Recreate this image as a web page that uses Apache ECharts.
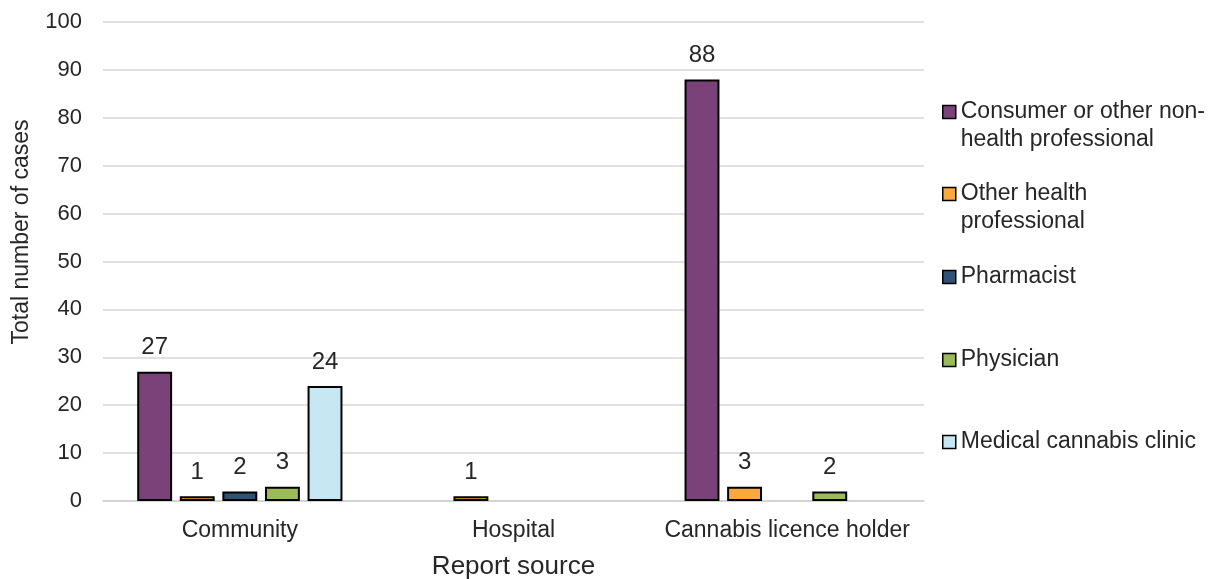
<!DOCTYPE html>
<html lang="en" style="height: 100%">
<head>
  <meta charset="utf-8">
</head>
<body style="height: 100%; margin: 0; background: #fff">
  <div id="container" style="width: 1217px; height: 579px"></div>
  <script src="https://cdn.jsdelivr.net/npm/echarts@6/dist/echarts.min.js"></script>
  <script type="text/javascript">
    var categories = ['Community', 'Hospital', 'Cannabis licence holder'];
    var seriesNames = [
      'Consumer or other non-health professional',
      'Other health professional',
      'Pharmacist',
      'Physician',
      'Medical cannabis clinic'
    ];
    // null = no report (Excel showed nothing)
    var consumer = [27, null, 88];
    var otherHealth = [1, 1, 3];
    var pharmacist = [2, null, null];
    var physician = [3, null, 2];
    var clinic = [24, null, null];
    var yTicks = [0, 10, 20, 30, 40, 50, 60, 70, 80, 90, 100];

    var colors = ['#7b4179', '#fba93d', '#2f5275', '#9bbb59', '#c6e7f1'];
    var values = [consumer, otherHealth, pharmacist, physician, clinic];
    var font = "'Liberation Sans', Arial, sans-serif";
    var textColor = '#262626';

    var dom = document.getElementById('container');
    var myChart = echarts.init(dom, null, { renderer: 'canvas' });

    // legend entries placed one by one (Excel spaces them unevenly)
    // a leading blank line keeps the icon level with the first text line
    var legendCenters = [112, 194, 277, 360, 442];
    var legendLabels = [
      '\nConsumer or other non-\nhealth professional',
      '\nOther health\nprofessional',
      'Pharmacist',
      'Physician',
      'Medical cannabis clinic'
    ];
    var legends = seriesNames.map(function (name, i) {
      var twoLines = legendLabels[i].indexOf('\n') >= 0;
      return {
        data: [name],
        orient: 'vertical',
        left: 942,
        padding: 0,
        top: twoLines ? legendCenters[i] - 42 : legendCenters[i] - 14,
        itemWidth: 13,
        itemHeight: 13,
        icon: 'rect',
        selectedMode: false,
        itemStyle: { borderColor: '#000', borderWidth: 1.5 },
        formatter: function () { return legendLabels[i]; },
        textStyle: {
          fontFamily: font,
          fontSize: 23,
          lineHeight: 28,
          color: textColor
        }
      };
    });

    var option = {
      animation: false,
      color: colors,
      textStyle: { fontFamily: font },
      grid: { left: 103, right: 293, top: 22, bottom: 78, outerBoundsMode: 'none' },
      legend: legends,
      xAxis: {
        type: 'category',
        data: categories,
        name: 'Report source',
        nameLocation: 'middle',
        nameGap: 53,
        nameTextStyle: { fontSize: 26, color: textColor, fontFamily: font },
        axisLine: { lineStyle: { color: '#d0d0d0', width: 1.5 } },
        axisTick: { show: false },
        axisLabel: { interval: 0, fontSize: 23, color: textColor, margin: 18, fontFamily: font }
      },
      yAxis: {
        type: 'value',
        min: yTicks[0],
        max: yTicks[yTicks.length - 1],
        interval: yTicks[1] - yTicks[0],
        axisLine: { show: false },
        axisTick: { show: false },
        axisLabel: { fontSize: 22, color: textColor, margin: 21, fontFamily: font },
        splitLine: { lineStyle: { color: '#d6d6d6', width: 1.5 } }
      },
      graphic: [
        {
          type: 'text',
          x: 22,
          y: 232,
          rotation: Math.PI / 2,
          style: {
            text: 'Total number of cases',
            fontSize: 23,
            fontFamily: font,
            fill: textColor,
            textAlign: 'center',
            textVerticalAlign: 'middle'
          }
        }
      ],
      series: seriesNames.map(function (name, i) {
        return {
          name: name,
          type: 'bar',
          data: values[i],
          barGap: '22%',
          barCategoryGap: '25%',
          itemStyle: { color: colors[i], borderColor: '#000', borderWidth: 2 },
          label: {
            show: true,
            position: 'top',
            distance: 12,
            fontSize: 24,
            color: textColor,
            fontFamily: font
          }
        };
      })
    };

    myChart.setOption(option);
    window.addEventListener('resize', myChart.resize);
  </script>
</body>
</html>
